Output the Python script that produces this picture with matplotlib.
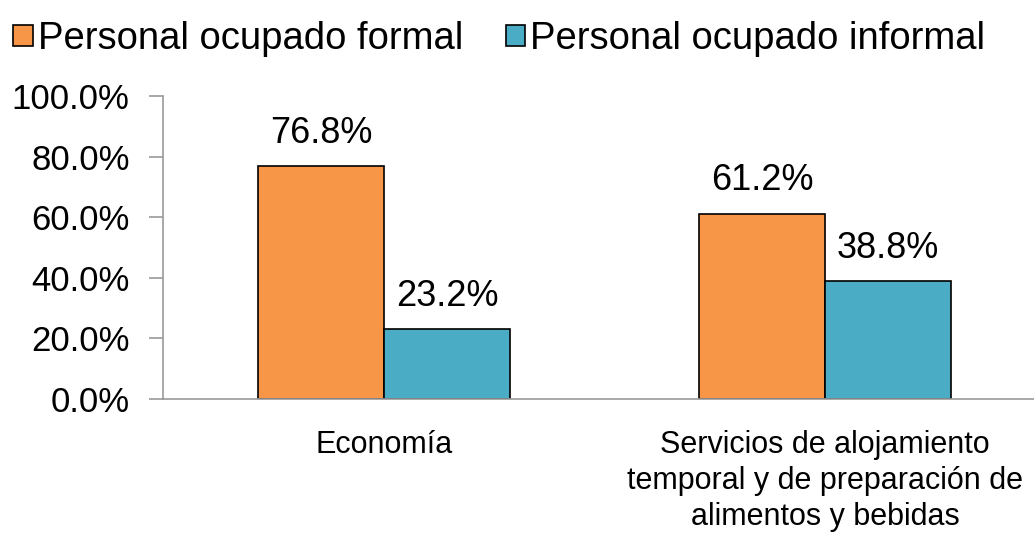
import matplotlib
matplotlib.use("Agg")
from matplotlib import pyplot as plt
import numpy as np

categories = ["Economía", "Servicios de alojamiento\ntemporal y de preparación de\nalimentos y bebidas"]
series_names = ["Personal ocupado formal", "Personal ocupado informal"]
formal = [76.8, 61.2]
informal = [23.2, 38.8]
yticks = [0, 20, 40, 60, 80, 100]

plt.rcParams['font.family'] = ['Liberation Sans', 'DejaVu Sans']

fig = plt.figure(figsize=(10.34, 5.33), dpi=100)
ax = fig.add_axes([163 / 1034, 1 - 399 / 533, (1034 - 163) / 1034, (399 - 96) / 533])

x = np.arange(len(categories))
w = 0.286
colors = ["#F79646", "#4BACC6"]
b1 = ax.bar(x - w / 2, formal, w, color=colors[0], edgecolor="black", linewidth=1.2, label=series_names[0])
b2 = ax.bar(x + w / 2, informal, w, color=colors[1], edgecolor="black", linewidth=1.2, label=series_names[1])

for bars, vals in ((b1, formal), (b2, informal)):
    for r, v in zip(bars, vals):
        ax.text(r.get_x() + r.get_width() / 2, v + 5, f"{v:.1f}%", ha="center", va="bottom", fontsize=26)

ax.set_ylim(0, 100)
ax.set_xlim(-0.501, 1.474)
ax.set_yticks(yticks)
ax.set_yticklabels([f"{t:.1f}%" for t in yticks], fontsize=25)
ax.set_xticks(x)
ax.set_xticklabels(categories, fontsize=22, linespacing=1.27)
ax.tick_params(axis="x", length=0, pad=22)
ax.tick_params(axis="y", length=10, color="#999999", width=1.2, pad=14)

for s in ("top", "right"):
    ax.spines[s].set_visible(False)
ax.spines["left"].set_color("#999999")
ax.spines["bottom"].set_color("#999999")
ax.spines["left"].set_linewidth(1.2)
ax.spines["bottom"].set_linewidth(1.2)

fig.legend(handles=[b1, b2], loc="upper center", bbox_to_anchor=(0.483, 1.025), ncol=2, frameon=False,
           fontsize=27.5, handlelength=0.5, handleheight=0.5, handletextpad=0.15, columnspacing=1.1)

fig.savefig("out.png", dpi=100)
